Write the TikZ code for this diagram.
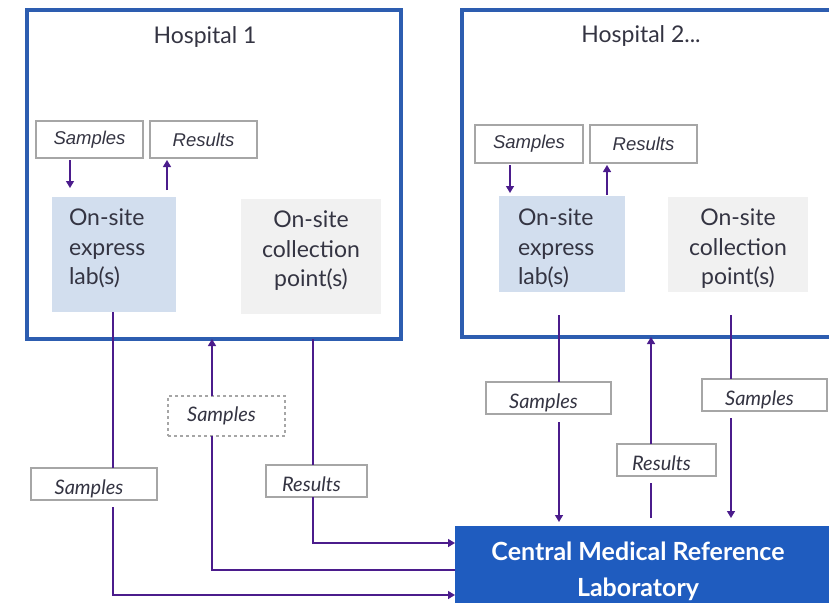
\documentclass[tikz,border=0pt]{standalone}
\usepackage{fontspec}
\setmainfont{Lato}
\newfontfamily\arialfont{Liberation Sans}
\usetikzlibrary{arrows.meta}
\definecolor{hblue}{HTML}{2D5DB0}
\definecolor{cblue}{HTML}{1F5CBF}
\definecolor{labfill}{HTML}{D2DEEE}
\definecolor{colfill}{HTML}{F1F1F1}
\definecolor{arrc}{HTML}{4B1C8C}
\definecolor{txt}{HTML}{343442}
\definecolor{boxgray}{HTML}{A6A6A6}
\begin{document}
\begin{tikzpicture}[x=1pt,y=-1pt,
  every node/.style={outer sep=0pt,inner sep=0pt,text=txt},
  hosp/.style={draw=hblue,line width=3.5pt,anchor=north west},
  labbox/.style={fill=labfill,anchor=north west},
  colbox/.style={fill=colfill,anchor=north west},
  bigtxt/.style={font=\fontsize{23}{29.5}\selectfont},
  titletxt/.style={font=\fontsize{23}{27}\selectfont,anchor=base},
  smallbox/.style={draw=boxgray,line width=1.4pt,anchor=north west,font=\arialfont\itshape\fontsize{18.5}{20}\selectfont},
  lblbox/.style={draw=boxgray,line width=1.2pt,fill=white,anchor=north west,font=\itshape\fontsize{20}{22}\selectfont},
  lowtxt/.style={text height=25pt,text depth=4pt},
  conn/.style={draw=arrc,line width=1.4pt},
  arrow/.style={conn,-{Triangle[width=8pt,length=7pt]}}
]
\useasboundingbox (0,0) rectangle (829,602);
\clip (0,0) rectangle (829,602);

% Hospitals
\node[hosp,minimum width=374,minimum height=329] (h1) at (27,10) {};
\node[hosp,minimum width=420,minimum height=327] (h2) at (462,10) {};
\node[titletxt] (h1t) at (205,44) {Hospital 1};
\node[titletxt] (h2t) at (641,43) {Hospital 2...};

% Hospital 1 inner
\node[smallbox,minimum width=107,minimum height=37] (s1) at (36,121) {Samples};
\node[smallbox,minimum width=107,minimum height=37] (r1) at (150,121) {Results};
\node[labbox,minimum width=124,minimum height=115] (lab1) at (52,197) {};
\node[bigtxt,align=left,anchor=north west] (lab1t) at (69,209) {On-site\\express\\lab(s)};
\node[colbox,minimum width=140,minimum height=115] (col1) at (241,199) {};
\node[bigtxt,align=center,anchor=north] (col1t) at (311,211) {On-site\\collection\\point(s)};

% Hospital 2 inner
\node[smallbox,minimum width=108,minimum height=38] (s2) at (475,125) {Samples};
\node[smallbox,minimum width=107,minimum height=38] (r2) at (590,125) {Results};
\node[labbox,minimum width=126,minimum height=96] (lab2) at (499,196) {};
\node[bigtxt,align=left,anchor=north west] (lab2t) at (518,209) {On-site\\express\\lab(s)};
\node[colbox,minimum width=140,minimum height=95] (col2) at (668,197) {};
\node[bigtxt,align=center,anchor=north] (col2t) at (738,209) {On-site\\collection\\point(s)};

% Central lab
\node[fill=cblue,anchor=north west,minimum width=420,minimum height=120] (cmrl) at (455,526) {};
\node[align=center,anchor=north,text=white,font=\bfseries\fontsize{25}{36}\selectfont] (cmrlt) at (638,542) {Central Medical Reference\\Laboratory};

% Label boxes
\node[lblbox,lowtxt,minimum width=126,minimum height=32] (ls1) at (31,468) {\hspace*{-10pt}Samples};
\node[lblbox,dashed,minimum width=117,minimum height=40] (dsm) at (168,396) {\hspace*{-10pt}Samples};
\node[lblbox,lowtxt,minimum width=101,minimum height=32] (lr1) at (266,465) {\hspace*{-10pt}Results};
\node[lblbox,lowtxt,minimum width=125,minimum height=32] (ls2) at (486,382) {\hspace*{-10pt}Samples};
\node[lblbox,lowtxt,minimum width=99,minimum height=32] (lr2) at (617,444) {\hspace*{-10pt}Results};
\node[lblbox,lowtxt,minimum width=125,minimum height=32] (rs2) at (702,379) {\hspace*{-10pt}Samples};

% Inner arrows hospital 1
\draw[arrow,shorten <=2pt,shorten >=9pt] (70,0 |- s1.south) -- (70,0 |- lab1.north);
\draw[arrow,shorten <=7pt,shorten >=2pt] (167,0 |- lab1.north) -- (167,0 |- r1.south);
% Inner arrows hospital 2
\draw[arrow,shorten <=2pt,shorten >=3pt] (510,0 |- s2.south) -- (510,0 |- lab2.north);
\draw[arrow,shorten <=1pt,shorten >=2pt] (607,0 |- lab2.north) -- (607,0 |- r2.south);

% Hospital 1 <-> central lab
\draw[conn] (113,0 |- lab1.south) -- (113,0 |- ls1.north);
\draw[arrow,shorten <=7pt] (113,0 |- ls1.south) -- (113,595) -- (cmrl.west |- 0,595);
\draw[conn] (cmrl.west |- 0,570) -- (212,570) -- (212,0 |- dsm.south);
\draw[arrow] (212,0 |- dsm.north) -- (212,0 |- h1.south);
\draw[conn] (313,0 |- h1.south) -- (313,0 |- lr1.north);
\draw[arrow] (313,0 |- lr1.south) -- (313,543) -- (cmrl.west |- 0,543);

% Hospital 2 <-> central lab
\draw[conn,shorten <=23pt] (559,0 |- lab2.south) -- (559,0 |- ls2.north);
\draw[arrow,shorten <=8pt,shorten >=4pt] (559,0 |- ls2.south) -- (559,0 |- cmrl.north);
\draw[conn,shorten <=8pt,shorten >=7pt] (651,0 |- cmrl.north) -- (651,0 |- lr2.south);
\draw[arrow] (651,0 |- lr2.north) -- (651,0 |- h2.south);
\draw[conn,shorten <=23pt] (731,0 |- col2.south) -- (731,0 |- rs2.north);
\draw[arrow,shorten <=7pt,shorten >=8pt] (731,0 |- rs2.south) -- (731,0 |- cmrl.north);
\end{tikzpicture}
\end{document}
